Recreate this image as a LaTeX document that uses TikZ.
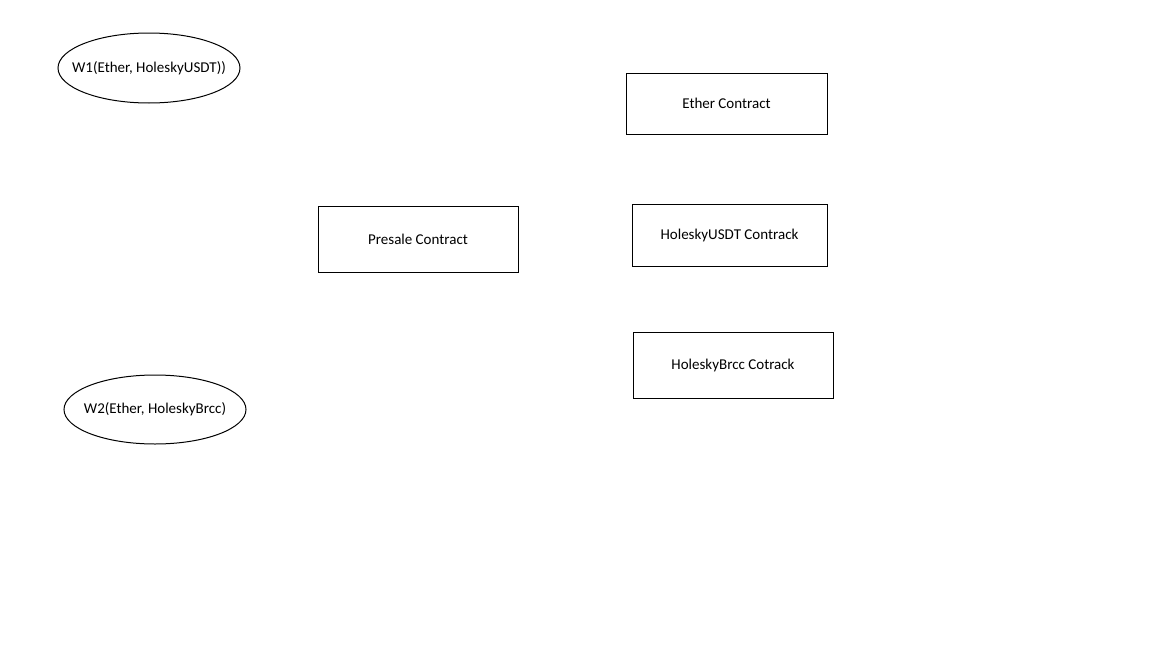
\documentclass[tikz,border=0pt]{standalone}
\usepackage{fontspec}
\setmainfont{Carlito}
\usetikzlibrary{shapes.geometric}
\tikzset{
    wallet/.style = {
      ellipse, draw=black, line width=1pt, inner ysep=0, inner xsep=-20pt,
      minimum width=182pt, minimum height=70pt, font=\fontsize{15}{17}\selectfont,
    },
    contract/.style = {
      rectangle, draw=black, line width=1pt, inner sep=0,
      minimum width=200pt, minimum height=64pt, font=\fontsize{15}{17}\selectfont,
    },
}

\begin{document}
\begin{tikzpicture}[x=1pt, y=-1pt]
    %% Fix the page to the size of the reference
    \useasboundingbox (0,0) rectangle (1152,648);

    %% The two wallets
    \node [wallet] (W1) at (149,68) {W1(Ether, HoleskyUSDT))};
    \node [wallet, minimum height=69pt] (W2) at (155,409.5) {W2(Ether, HoleskyBrcc)};

    %% The contracts
    \node [contract, minimum height=66pt] (presale) at (418,239) {Presale Contract};
    \node [contract, minimum width=201pt, minimum height=61pt] (ether) at (726.5,103.5) {Ether Contract};
    \node [contract, minimum width=195pt, minimum height=62pt] (usdt) at (729.5,235) {HoleskyUSDT Contrack};
    \node [contract, minimum height=66pt] (brcc) at (733,365) {HoleskyBrcc Cotrack};
\end{tikzpicture}
\end{document}
